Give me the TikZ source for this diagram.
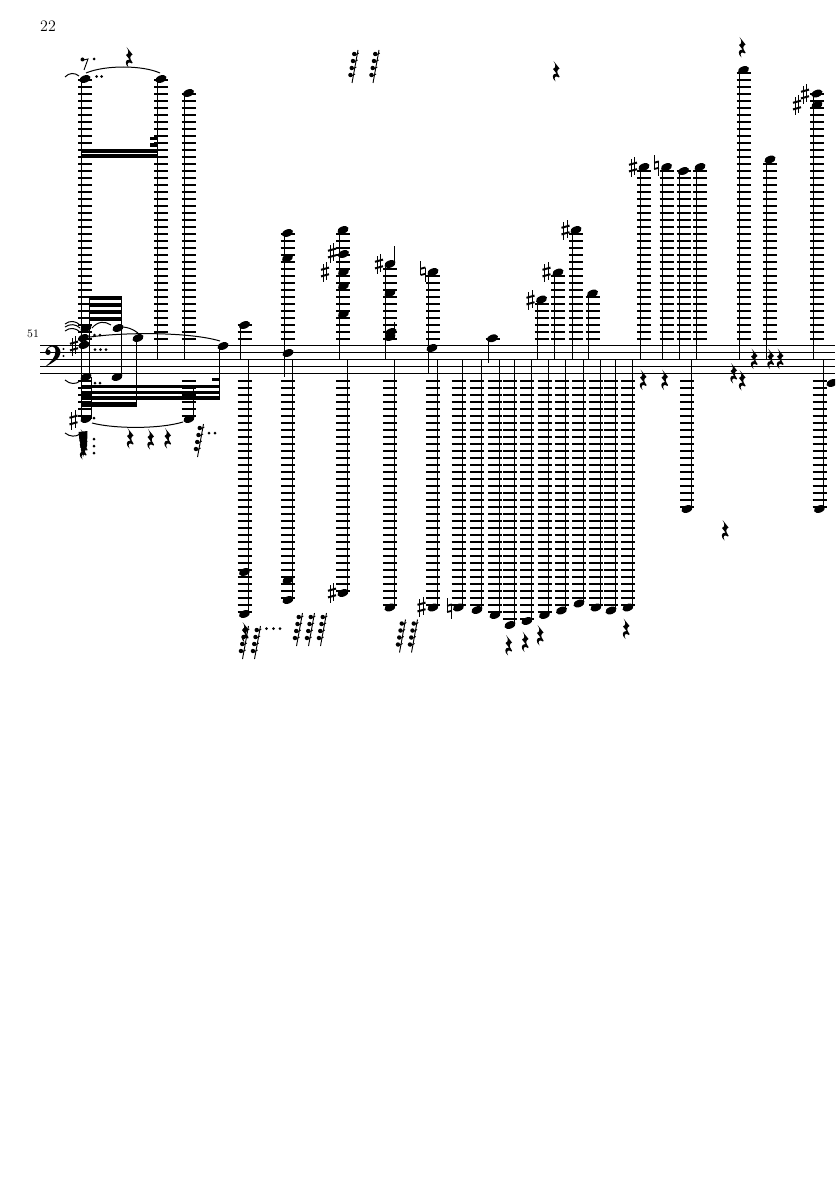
\documentclass[tikz,border=0pt]{standalone}
\usepackage{tikz}
\newcommand{\notehead}[2]{\fill[rotate around={22:(#1,#2)}] (#1,#2) ellipse [x radius=5.8,y radius=3.6];}
\newcommand{\ledgersup}[2]{\pgfmathtruncatemacro{\nled}{(346-#2+2)/7}
   \foreach \k in {1,...,\nled} {\draw[ledger] (#1-7,{346-7*\k}) -- (#1+7,{346-7*\k});}}
\newcommand{\ledgersdown}[2]{\pgfmathtruncatemacro{\nled}{(#2-374)/7}
   \foreach \k in {1,...,\nled} {\draw[ledger] (#1-7,{374+7*\k}) -- (#1+7,{374+7*\k});}}
\newcommand{\upnote}[2]{\ledgersup{#1}{#2}\notehead{#1}{#2}\draw[stemline] (#1-4,#2) -- (#1-4,359.5);}
\newcommand{\downnote}[2]{\ledgersdown{#1}{#2}\notehead{#1}{#2}\draw[stemline] (#1+4,359.5) -- (#1+4,#2);}
\newcommand{\sharpsign}[2]{\draw[line width=0.85pt] (#1-1.9,#2-8) -- (#1-1.9,#2+10) (#1+1.9,#2-10) -- (#1+1.9,#2+8);
   \draw[line width=1.5pt] (#1-4,#2-2.2) -- (#1+4,#2-4.4) (#1-4,#2+4.4) -- (#1+4,#2+2.2);}
\newcommand{\naturalsign}[2]{\draw[line width=0.85pt] (#1-2.4,#2-10) -- (#1-2.4,#2+4) (#1+2.4,#2-3) -- (#1+2.4,#2+11);
   \draw[line width=1.4pt] (#1-2.4,#2-2.2) -- (#1+2.4,#2-3.6) (#1-2.4,#2+4) -- (#1+2.4,#2+2.8);}
\newcommand{\qrest}[2]{\fill[shift={(#1,#2)}] (-2.5,-10) -- (3.5,-2.5) .. controls (1,-1) and (0,1) .. (3.5,5.5) -- (3,6.5)
   .. controls (0,4) and (-3,6) .. (-0.5,10.5) .. controls (-4.5,7) and (-4,2.5) .. (0.5,2.5) -- (-3,-2)
   .. controls (0,-3.5) and (0,-6) .. (-2.5,-10) -- cycle;}
\newcommand{\longrest}[2]{\draw[stemline] (#1,#2) -- (#1+6,#2-33);
   \foreach \k in {8,15,22,29} {\fill (#1+\k*0.18-3,#2-\k) circle (2.2);
      \draw[line width=0.7pt] (#1+\k*0.18-3,#2-\k+1.6) -- (#1+\k*0.18+1.6,#2-\k-1);}}
\newcommand{\restdot}[2]{\fill (#1,#2) circle (1.5);}
\begin{document}
\begin{tikzpicture}[x=0.75pt,y=-0.75pt,
    ledger/.style ={line width=1.25pt},
    stemline/.style ={line width=0.7pt},
    staffline/.style ={line width=0.6pt},
    slurline/.style ={line width=0.75pt}]
   \clip[use as bounding box] (0,0) rectangle (835,1181);
   \node (pagenum) at (48,26) {\fontsize{12}{14}\selectfont 22};
   \node (barnum) at (33,334) {\fontsize{8.5}{10}\selectfont 51};
   \foreach \k in {0,...,4} {\draw[staffline] (40,{345.5+7*\k}) -- (835,{345.5+7*\k});}
   \fill (48,352.3) circle (2.7);
   \fill (45.5,352) .. controls (46,347) and (51,345.3) .. (53.5,345.3) .. controls (59,345.3) and (60.5,350) .. (60.5,352.5)
      .. controls (60.5,358) and (53,363) .. (45,366.8) .. controls (51,362) and (55.5,357) .. (55.5,351.5)
      .. controls (55.5,348) and (54,346.5) .. (52,346.5) .. controls (49,346.5) and (47,348.5) .. (47,351) -- cycle;
   \fill (63.5,349) circle (1.1) (63.5,356) circle (1.1);
   \upnote{85}{79}
   \upnote{161}{79}
   \upnote{188.5}{93}
   \fill (80.5,148.8) rectangle (157,152.6);
   \fill (80.5,154.2) rectangle (157,158.2);
   \fill (150,136.5) rectangle (157,140);
   \fill (150,143) rectangle (157,146.5);
   \draw[slurline] (86,73) .. controls (105,65) and (142,65) .. (160,73);
   \draw[slurline] (65,77) .. controls (69,72.5) and (75,72.5) .. (79,76);
   \fill (82.5,59.5) circle (2);
   \draw[stemline] (81,60.5) -- (88,59) -- (84,70);
   \restdot{94}{59}
   \restdot{96.5}{76.5}
   \restdot{101.5}{76.5}
   \qrest{129}{57}
   \fill (89,296) rectangle (121.7,300.4);
   \fill (89,303) rectangle (121.7,307.2);
   \fill (89,310) rectangle (121.7,314);
   \fill (89,317) rectangle (121.7,320.6);
   \draw[stemline] (89,296) -- (89,377);
   \draw[stemline] (121.7,296) -- (121.7,377);
   \notehead{86}{328}
   \notehead{118}{328}
   \notehead{83.5}{338}
   \notehead{84}{345}
   \notehead{138}{338}
   \notehead{223}{346}
   \sharpsign{74}{346}
   \draw[stemline] (136,338) -- (136,406);
   \draw[stemline] (219.5,346) -- (219.5,399.5);
   \draw[slurline] (90,337) .. controls (125,332) and (190,332) .. (220,341);
   \draw[slurline] (65,324) .. controls (70,320) and (76,321) .. (80,325);
   \draw[slurline] (65,327) .. controls (70,323.5) and (76,324) .. (80,328);
   \draw[slurline] (65,331) .. controls (70,327) and (76,328) .. (80,332);
   \draw[slurline] (92,328) .. controls (98,321) and (105,321) .. (111,325);
   \draw[slurline] (122,327) .. controls (127,327) and (133,329) .. (138,333);
   \foreach \dx in {94.5,100} {\restdot{\dx}{335}}
   \foreach \dx in {95,100.5,106} {\restdot{\dx}{349.5}}
   \ledgersdown{85}{419}
   \notehead{86}{377}
   \notehead{117}{377}
   \draw[slurline] (65,380) .. controls (70,384.5) and (76,384.5) .. (80,381);
   \foreach \dx in {95,100} {\restdot{\dx}{383}}
   \fill (80.5,384.5) rectangle (220,388);
   \fill (80.5,390.5) rectangle (220,394);
   \fill (80.5,396) rectangle (220,399.7);
   \fill (80.5,402) rectangle (136.5,406.5);
   \fill (212,377.7) rectangle (220,381);
   \draw[stemline] (81,338) -- (81,419);
   \draw[stemline] (91,377) -- (91,419);
   \notehead{86}{419}
   \sharpsign{73.5}{420}
   \restdot{94}{418}
   \ledgersdown{188.5}{419}
   \draw[stemline] (193.5,385) -- (193.5,419);
   \notehead{189}{419}
   \draw[slurline] (92,423) .. controls (115,429) and (160,429) .. (183,422);
   \draw[slurline] (65,433) .. controls (70,437) and (76,437) .. (80,434);
   \qrest{83}{439}
   \qrest{84}{444}
   \qrest{83}{449}
   \fill (78.5,432) -- (87.5,431) -- (87,446) -- (83,457) -- (82,447) -- (79.5,441) -- cycle;
   \foreach \dy in {439,446,453} {\restdot{94}{\dy}}
   \qrest{130}{438}
   \qrest{150.5}{439}
   \qrest{167.5}{438}
   \longrest{197.5}{457}
   \restdot{209}{433}
   \restdot{215}{433}
   \upnote{244.5}{325}
   \downnote{244.5}{614}
   \notehead{244.5}{572}
   \ledgersup{287.5}{233}
   \notehead{287.5}{233}
   \notehead{287.5}{258}
   \notehead{288}{353}
   \draw[stemline] (284,233) -- (284,377);
   \downnote{288}{600}
   \notehead{288}{580}
   \upnote{343}{230}
   \foreach \ny in {254,272,286,314} {\notehead{343.5}{\ny}}
   \sharpsign{332}{253}
   \sharpsign{325}{272}
   \downnote{343}{593}
   \sharpsign{332}{593}
   \ledgersup{390}{271}
   \notehead{390}{264}
   \draw[stemline] (394,246) -- (394,264);
   \sharpsign{379}{264}
   \notehead{390}{293}
   \notehead{391}{332}
   \notehead{390}{337}
   \draw[stemline] (394.5,322) -- (394.5,332);
   \draw[stemline] (385.7,267) -- (385.7,359.5);
   \downnote{390}{607.5}
   \ledgersup{433}{272}
   \notehead{433}{272}
   \naturalsign{423}{271}
   \notehead{432}{348}
   \draw[stemline] (428,272) -- (428,373);
   \downnote{433}{607.5}
   \sharpsign{421.5}{607}
   \downnote{458.5}{607.5}
   \naturalsign{449.5}{608}
   \downnote{477}{610}
   \downnote{495}{615}
   \downnote{510}{625}
   \downnote{527}{621}
   \downnote{544.5}{615}
   \downnote{561.5}{610.5}
   \downnote{579}{603.5}
   \downnote{596}{607.5}
   \downnote{611}{610.5}
   \downnote{628}{607.5}
   \ledgersup{492.5}{338.3}
   \notehead{492.5}{338.3}
   \draw[stemline] (488,338.3) -- (488,363);
   \upnote{541.5}{299.5}
   \sharpsign{530.5}{300}
   \upnote{558}{272.5}
   \sharpsign{546.5}{272}
   \upnote{576}{230}
   \sharpsign{565.5}{230}
   \upnote{592.5}{293.5}
   \upnote{644}{167}
   \sharpsign{633}{167}
   \upnote{666.5}{167}
   \naturalsign{656.5}{165}
   \upnote{683.5}{171}
   \upnote{700}{167}
   \upnote{743.5}{70}
   \upnote{770}{159.5}
   \upnote{817}{93.5}
   \notehead{817}{105}
   \sharpsign{805}{94}
   \sharpsign{797}{105}
   \downnote{687}{509}
   \downnote{819.5}{509}
   \notehead{832}{383}
   \longrest{242.5}{659}
   \qrest{245}{632}
   \longrest{254.5}{659}
   \foreach \dx in {266.5,273.5,280} {\restdot{\dx}{628.5}}
   \longrest{296.5}{646}
   \longrest{308.5}{646}
   \longrest{320.5}{646}
   \longrest{399.5}{652.5}
   \longrest{411.5}{652.5}
   \longrest{352}{83}
   \longrest{373}{83}
   \qrest{508.5}{645}
   \qrest{525}{641.5}
   \qrest{540}{635}
   \qrest{626}{628.5}
   \qrest{643}{379.5}
   \qrest{664.5}{379.5}
   \qrest{733.5}{373}
   \qrest{742}{380}
   \qrest{754}{358.5}
   \qrest{770.5}{358.5}
   \qrest{780}{358.5}
   \qrest{725}{530}
   \qrest{556}{71}
   \qrest{742}{47}
 \end{tikzpicture}
\end{document}
